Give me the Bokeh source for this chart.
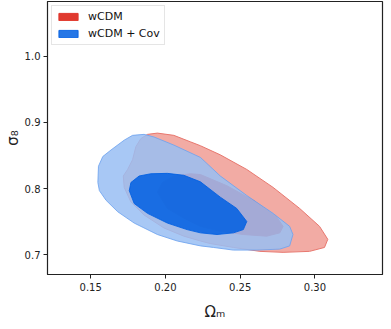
from bokeh.plotting import figure
from bokeh.models import Legend, LegendItem, Range1d, FixedTicker, PrintfTickFormatter
from bokeh.embed import file_html
from bokeh.resources import INLINE

# ---- data (contour vertices, Omega_m vs sigma_8) ----
wcdm_95_om = [0.1718, 0.1747, 0.1780, 0.1802, 0.1835, 0.1880, 0.1946, 0.2056, 0.2167, 0.2234,
              0.2367, 0.2544, 0.2720, 0.2898, 0.3031, 0.3086, 0.3064, 0.2964, 0.2787, 0.2632,
              0.2455, 0.2300, 0.2234, 0.2123, 0.1990, 0.1857, 0.1769, 0.1724]
wcdm_95_s8 = [0.8190, 0.8289, 0.8437, 0.8633, 0.8755, 0.8820, 0.8839, 0.8805, 0.8707, 0.8648,
              0.8510, 0.8289, 0.8018, 0.7699, 0.7428, 0.7232, 0.7109, 0.7050, 0.7035, 0.7050,
              0.7109, 0.7168, 0.7207, 0.7280, 0.7404, 0.7600, 0.7797, 0.8018]

wcdm_68_om = [0.1946, 0.1979, 0.2056, 0.2167, 0.2234, 0.2411, 0.2588, 0.2743, 0.2787, 0.2765,
              0.2677, 0.2521, 0.2367, 0.2234, 0.2123, 0.2013]
wcdm_68_s8 = [0.7944, 0.8092, 0.8190, 0.8224, 0.8212, 0.8043, 0.7822, 0.7575, 0.7428, 0.7330,
              0.7280, 0.7305, 0.7354, 0.7428, 0.7552, 0.7699]

cov_95_om = [0.1548, 0.1552, 0.1581, 0.1636, 0.1724, 0.1780, 0.1857, 0.1924, 0.2056, 0.2234,
             0.2367, 0.2544, 0.2720, 0.2831, 0.2853, 0.2831, 0.2765, 0.2610, 0.2455, 0.2322,
             0.2234, 0.2079, 0.1946, 0.1791, 0.1681, 0.1603, 0.1558]
cov_95_s8 = [0.8092, 0.8338, 0.8485, 0.8584, 0.8732, 0.8805, 0.8820, 0.8780, 0.8658, 0.8471,
             0.8190, 0.7895, 0.7625, 0.7428, 0.7305, 0.7133, 0.7084, 0.7069, 0.7069, 0.7109,
             0.7133, 0.7207, 0.7305, 0.7478, 0.7649, 0.7822, 0.7969]

cov_68_om = [0.1758, 0.1769, 0.1824, 0.1902, 0.2013, 0.2123, 0.2234, 0.2367, 0.2477, 0.2544,
             0.2521, 0.2455, 0.2345, 0.2234, 0.2145, 0.2013, 0.1880, 0.1791]
cov_68_s8 = [0.7969, 0.8092, 0.8190, 0.8224, 0.8230, 0.8201, 0.8102, 0.7870, 0.7699, 0.7502,
             0.7379, 0.7330, 0.7305, 0.7330, 0.7379, 0.7478, 0.7625, 0.7773]

series_labels = ["wCDM", "wCDM + Cov"]
x_ticks = [0.15, 0.20, 0.25, 0.30]
y_ticks = [0.7, 0.8, 0.9, 1.0]

FONT = "DejaVu Sans"
RED_OUT, RED_IN, RED_LINE = "#F2ABA4", "#E0392E", "#E8786F"
BLUE_OUT, BLUE_IN, BLUE_LINE = "#99BEF3", "#005FE2", "#6FA3EE"

p = figure(frame_width=335, frame_height=273, output_backend="svg", toolbar_location=None,
           x_range=Range1d(0.1211, 0.3452), y_range=Range1d(0.67, 1.083),
           min_border_left=10, min_border_right=2, min_border_top=1, min_border_bottom=10)

p.patch(wcdm_95_om, wcdm_95_s8, fill_color=RED_OUT, line_color=RED_LINE, line_width=1)
r_red = p.patch(wcdm_68_om, wcdm_68_s8, fill_color=RED_IN, line_color=RED_IN, line_width=1)
p.patch(cov_95_om, cov_95_s8, fill_color=BLUE_OUT, fill_alpha=0.85,
        line_color=BLUE_LINE, line_alpha=0.85, line_width=1)
r_blue = p.patch(cov_68_om, cov_68_s8, fill_color=BLUE_IN, fill_alpha=0.85,
                 line_color=BLUE_IN, line_alpha=0.85, line_width=1)

legend = Legend(items=[LegendItem(label=series_labels[0], renderers=[r_red]),
                       LegendItem(label=series_labels[1], renderers=[r_blue])],
                location="top_left", margin=4, padding=4, spacing=4,
                glyph_width=24, glyph_height=9, label_height=12,
                label_text_font=FONT, label_text_font_size="11px", label_standoff=8,
                label_text_color="#111111",
                border_line_color="#CCCCCC", border_line_width=1,
                background_fill_alpha=0.8)
p.add_layout(legend)

p.xgrid.visible = False
p.ygrid.visible = False
p.outline_line_color = "#222222"
p.outline_line_width = 1.2

p.xaxis.ticker = FixedTicker(ticks=x_ticks)
p.yaxis.ticker = FixedTicker(ticks=y_ticks)
p.xaxis.formatter = PrintfTickFormatter(format="%.2f")
p.yaxis.formatter = PrintfTickFormatter(format="%.1f")
for ax in (p.xaxis, p.yaxis):
    ax.minor_tick_line_color = None
    ax.major_tick_out = 4
    ax.major_tick_in = 0
    ax.axis_line_color = "#222222"
    ax.major_tick_line_color = "#222222"
    ax.major_label_text_font = FONT
    ax.major_label_text_font_size = "10px"
    ax.major_label_text_color = "#222222"
    ax.axis_label_text_font = FONT
    ax.axis_label_text_font_style = "normal"
    ax.axis_label_text_font_size = "15px"
    ax.axis_label_text_color = "#222222"
p.xaxis.axis_label = "Ωₘ"
p.yaxis.axis_label = "σ₈"
p.xaxis.major_label_standoff = 4
p.yaxis.major_label_standoff = 3
p.xaxis.axis_label_standoff = 9
p.yaxis.axis_label_standoff = 0

open("out.html", "w").write(file_html(p, INLINE))
